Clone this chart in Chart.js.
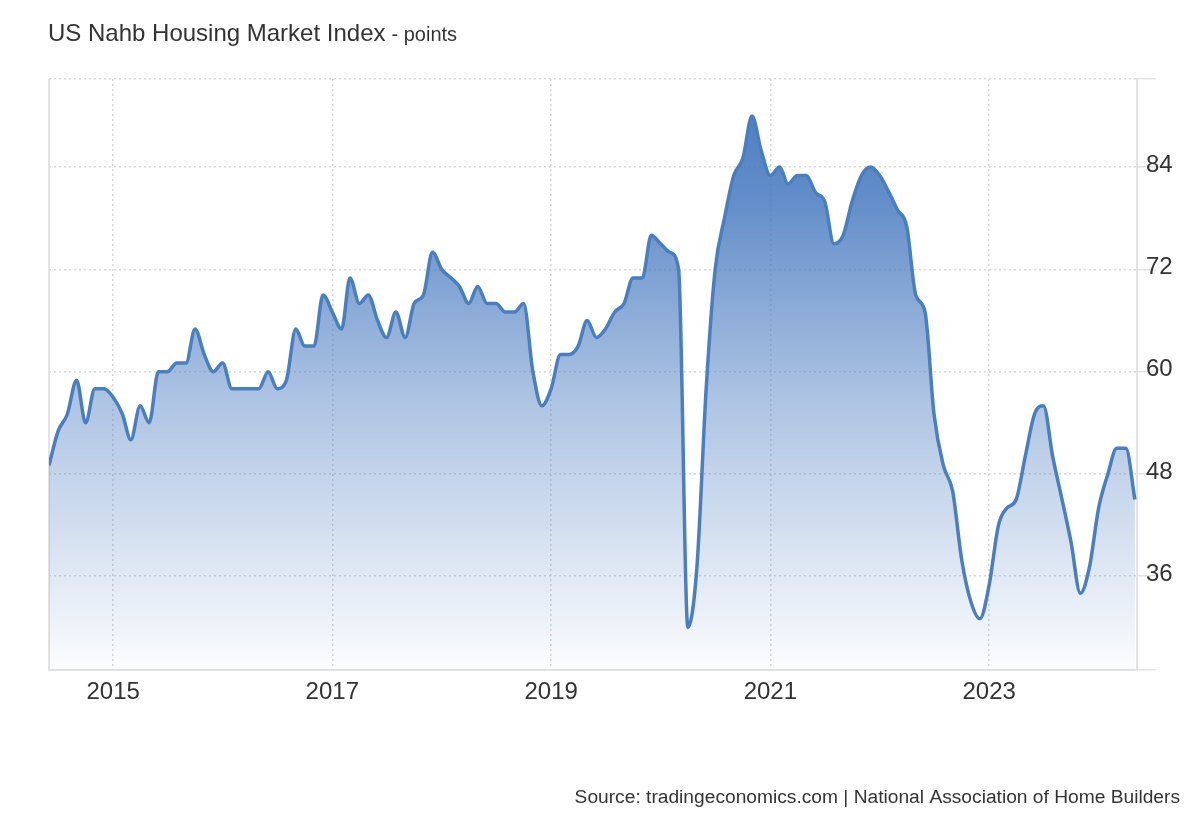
<!DOCTYPE html>
<html>
<head>
<meta charset="utf-8">
<script src="https://cdn.jsdelivr.net/npm/chart.js@4.4.1/dist/chart.umd.min.js"></script>
<style>
  html, body { margin: 0; padding: 0; background: #ffffff; }
  #wrap { width: 1200px; height: 820px; position: relative; }
</style>
</head>
<body>
<div id="wrap"><canvas id="c" width="1200" height="820"></canvas></div>
<script>
// Monthly series starting June 2014
const startYear = 2014;
const startMonth = 6; // June
const values2014 = [49, 53, 55, 59, 54, 58, 58];
const values2015 = [57, 55, 52, 56, 54, 60, 60, 61, 61, 65, 62, 60];
const values2016 = [61, 58, 58, 58, 58, 60, 58, 59, 65, 63, 63, 69];
const values2017 = [67, 65, 71, 68, 69, 66, 64, 67, 64, 68, 69, 74];
const values2018 = [72, 71, 70, 68, 70, 68, 68, 67, 67, 68, 60, 56];
const values2019 = [58, 62, 62, 63, 66, 64, 65, 67, 68, 71, 71, 76];
const values2020 = [75, 74, 72, 30, 37, 58, 72, 78, 83, 85, 90, 86];
const values2021 = [83, 84, 82, 83, 83, 81, 80, 75, 76, 80, 83, 84];
const values2022 = [83, 81, 79, 77, 69, 67, 55, 49, 46, 38, 33, 31];
const values2023 = [35, 42, 44, 45, 50, 55, 56, 50, 45, 40, 34, 37];
const values2024 = [44, 48, 51, 51, 45];

const xTickYears = [2015, 2017, 2019, 2021, 2023];
const yTickValues = [36, 48, 60, 72, 84];
const yMin = 25;
const yMax = 94.33;
const xEndPadDays = 7;

const titleMain = 'US Nahb Housing Market Index';
const titleUnit = '- points';
const sourceText = 'Source: tradingeconomics.com | National Association of Home Builders';

const allValues = [].concat(values2014, values2015, values2016, values2017, values2018,
  values2019, values2020, values2021, values2022, values2023, values2024);

// x position = days since first month (time axis without an adapter)
const DAY = 86400000;
const t0 = Date.UTC(startYear, startMonth - 1, 1);
const dayOf = (y, m) => (Date.UTC(y, m - 1, 1) - t0) / DAY;
const points = allValues.map((v, i) => {
  const mAbs = (startMonth - 1) + i;
  return { x: dayOf(startYear + Math.floor(mAbs / 12), (mAbs % 12) + 1), y: v };
});
const xTickPos = xTickYears.map(y => dayOf(y, 1));

const FONT = '"Liberation Sans", Arial, Helvetica, sans-serif';
const TEXT = '#333333';
const GRID = '#d8d8d8';
const AXIS = '#e3e3e3';
const LINE = '#4a7ebe';

const decor = {
  id: 'decor',
  beforeDatasetsDraw(chart) {
    const { ctx, chartArea: a } = chart;
    ctx.save();
    ctx.strokeStyle = AXIS;
    ctx.lineWidth = 2;
    ctx.beginPath();
    ctx.moveTo(a.left, a.top);
    ctx.lineTo(a.left, a.bottom);
    ctx.stroke();
    ctx.restore();
  },
  afterDraw(chart) {
    const { ctx } = chart;
    ctx.save();
    ctx.fillStyle = TEXT;
    ctx.textBaseline = 'alphabetic';
    ctx.textAlign = 'left';
    ctx.font = '24px ' + FONT;
    ctx.fillText(titleMain, 48, 41);
    const w = ctx.measureText(titleMain).width;
    ctx.font = '20px ' + FONT;
    ctx.fillText(titleUnit, 48 + w + 6, 41);
    ctx.font = '19.2px ' + FONT;
    ctx.textAlign = 'right';
    ctx.fillText(sourceText, 1180, 803);
    ctx.restore();
  }
};

const ctx = document.getElementById('c').getContext('2d');
new Chart(ctx, {
  type: 'line',
  data: {
    datasets: [{
      data: points,
      borderColor: LINE,
      borderWidth: 3.5,
      pointRadius: 0,
      cubicInterpolationMode: 'monotone',
      fill: 'start',
      backgroundColor: (c) => {
        const a = c.chart.chartArea;
        if (!a) return 'rgba(74,126,190,0.5)';
        const g = c.chart.ctx.createLinearGradient(0, a.top, 0, a.bottom);
        g.addColorStop(0, 'rgba(72,122,192,1)');
        g.addColorStop(0.2, 'rgba(72,122,192,0.86)');
        g.addColorStop(0.55, 'rgba(72,122,192,0.44)');
        g.addColorStop(1, 'rgba(72,122,192,0.02)');
        return g;
      }
    }]
  },
  options: {
    responsive: false,
    animation: false,
    events: [],
    layout: { padding: { left: 49, top: 79, right: 0, bottom: 0 } },
    plugins: { legend: { display: false }, tooltip: { enabled: false }, title: { display: false } },
    scales: {
      x: {
        type: 'linear',
        min: points[0].x,
        max: points[points.length - 1].x + xEndPadDays,
        afterBuildTicks: (s) => { s.ticks = xTickPos.map(v => ({ value: v })); },
        afterFit: (s) => { s.height = 150; },
        grid: { color: GRID, lineWidth: 1.5, drawTicks: false },
        border: { display: true, color: AXIS, width: 2, dash: [2, 3] },
        ticks: {
          autoSkip: false, maxRotation: 0, padding: 8, color: TEXT,
          font: { family: FONT, size: 24 },
          callback: (v) => { const i = xTickPos.indexOf(v); return i >= 0 ? String(xTickYears[i]) : ''; }
        }
      },
      y: {
        position: 'right',
        min: yMin,
        max: yMax,
        afterBuildTicks: (s) => { s.ticks = [yMin].concat(yTickValues, [yMax]).map(v => ({ value: v })); },
        afterFit: (s) => { s.width = 63; },
        grid: {
          color: (c) => (c.tick && c.tick.value === yMin) ? 'rgba(0,0,0,0)' : GRID,
          lineWidth: 1.5,
          drawTicks: true,
          tickLength: 19,
          tickColor: AXIS,
          tickWidth: 1.5,
          tickBorderDash: []
        },
        border: { display: true, color: AXIS, width: 2, dash: [2, 3] },
        ticks: {
          padding: -10, labelOffset: -2, color: TEXT,
          font: { family: FONT, size: 24 },
          callback: (v) => yTickValues.indexOf(v) >= 0 ? String(v) : ''
        }
      }
    }
  },
  plugins: [decor]
});
</script>
</body>
</html>
